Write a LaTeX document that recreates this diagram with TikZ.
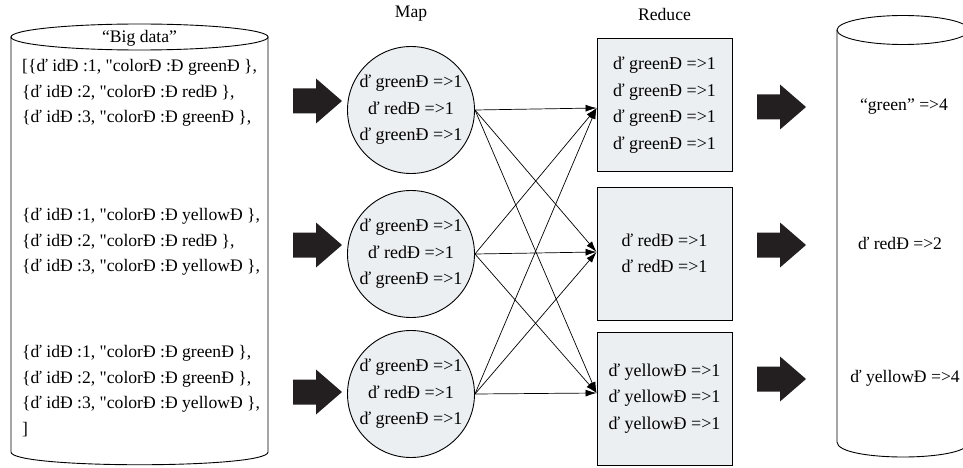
\documentclass[tikz,border=0pt]{standalone}
\usepackage{fontspec}
% plain family: no TeX ligature mapping, so " stays a straight quote
\newfontfamily\plainserif{Liberation Serif}
\usetikzlibrary{arrows.meta}
\definecolor{panelfill}{HTML}{ECEFF2}
\definecolor{inkfill}{HTML}{231F20}

\begin{document}
\begin{tikzpicture}[x=1pt,y=-1pt,
  lbl/.style={font=\plainserif\fontsize{17.6}{25.5}\selectfont, inner sep=0pt},
  listing/.style={lbl, align=left, anchor=west},
  mapnode/.style={circle, draw, line width=0.9pt, fill=panelfill,
    minimum size=127pt, inner sep=0pt, align=center,
    font=\plainserif\fontsize{18}{26.5}\selectfont},
  redbox/.style={rectangle, draw, line width=0.9pt, fill=panelfill,
    minimum width=135pt, minimum height=133pt, inner sep=0pt,
    align=center, font=\plainserif\fontsize{18}{26.5}\selectfont},
  link/.style={line width=0.7pt, -{Latex[length=11pt,width=7pt]}},
  vessel/.style={line width=0.9pt},
  bigarrow/.pic={\fill[inkfill] (-24.5,-12.5) -- (-1.5,-12.5) -- (-1.5,-22.5)
     -- (24.5,0) -- (-1.5,22.5) -- (-1.5,12.5) -- (-24.5,12.5) -- cycle;}
]
\useasboundingbox (0,0) rectangle (963,468);

% input store
\draw[vessel] (11,37) -- (11,452) .. controls (11,469) and (268,469) .. (268,452) -- (268,37);
\draw[vessel] (139.5,37) ellipse [x radius=128.5pt, y radius=13pt];
\node[lbl] (title) at (139.5,38) {“Big data”};
\node[listing] (rec1) at (22,93) {[\{ď idĐ :1, "colorĐ :Đ greenĐ \},\\
\{ď idĐ :2, "colorĐ :Đ redĐ \},\\
\{ď idĐ :3, "colorĐ :Đ greenĐ \},};
\node[listing] (rec2) at (22,242) {\{ď idĐ :1, "colorĐ :Đ yellowĐ \},\\
\{ď idĐ :2, "colorĐ :Đ redĐ \},\\
\{ď idĐ :3, "colorĐ :Đ yellowĐ \},};
\node[listing] (rec3) at (22,391) {\{ď idĐ :1, "colorĐ :Đ greenĐ \},\\
\{ď idĐ :2, "colorĐ :Đ greenĐ \},\\
\{ď idĐ :3, "colorĐ :Đ yellowĐ \},\\
]};

% output store
\draw[vessel] (837,30) -- (837,442) .. controls (837,462) and (969,462) .. (969,442) -- (969,30);
\draw[vessel] (903,30) ellipse [x radius=66pt, y radius=14.5pt];
\node[lbl] (out1) at (904,107) {“green” =>4};
\node[lbl] (out2) at (900,243) {ď redĐ =>2};
\node[lbl] (out3) at (905,378) {ď yellowĐ =>4};

% stage headings
\node[lbl] (maphead) at (411,14) {Map};
\node[lbl] (redhead) at (664.5,14) {Reduce};

% map stage
\node[mapnode] (m1) at (411,110) {ď greenĐ =>1\\ ď redĐ =>1\\ ď greenĐ =>1};
\node[mapnode] (m2) at (411,254) {ď greenĐ =>1\\ ď redĐ =>1\\ ď greenĐ =>1};
\node[mapnode] (m3) at (411,394) {ď greenĐ =>1\\ ď redĐ =>1\\ ď greenĐ =>1};

% reduce stage
\node[redbox] (r1) at (664.5,105) {ď greenĐ =>1\\ ď greenĐ =>1\\ ď greenĐ =>1\\ ď greenĐ =>1};
\node[redbox] (r2) at (664.5,253.5) {ď redĐ =>1\\ ď redĐ =>1};
\node[redbox] (r3) at (664.5,398.5) {ď yellowĐ =>1\\ ď yellowĐ =>1\\ ď yellowĐ =>1};

\coordinate (in1) at (r1.west |- 0,108);
\coordinate (in2) at (r2.west |- 0,252);
\coordinate (in3) at (r3.west |- 0,393);

% shuffle connections
\foreach \m in {m1,m2,m3}
  \foreach \r in {in1,in2,in3}
    \draw[link] (\m.east) -- (\r);

% flow arrows
\pic at (317.5,101) {bigarrow};
\pic at (317.5,245) {bigarrow};
\pic at (317.5,392) {bigarrow};
\pic at (781.5,107) {bigarrow};
\pic at (781.5,245) {bigarrow};
\pic at (781.5,379) {bigarrow};
\end{tikzpicture}
\end{document}
